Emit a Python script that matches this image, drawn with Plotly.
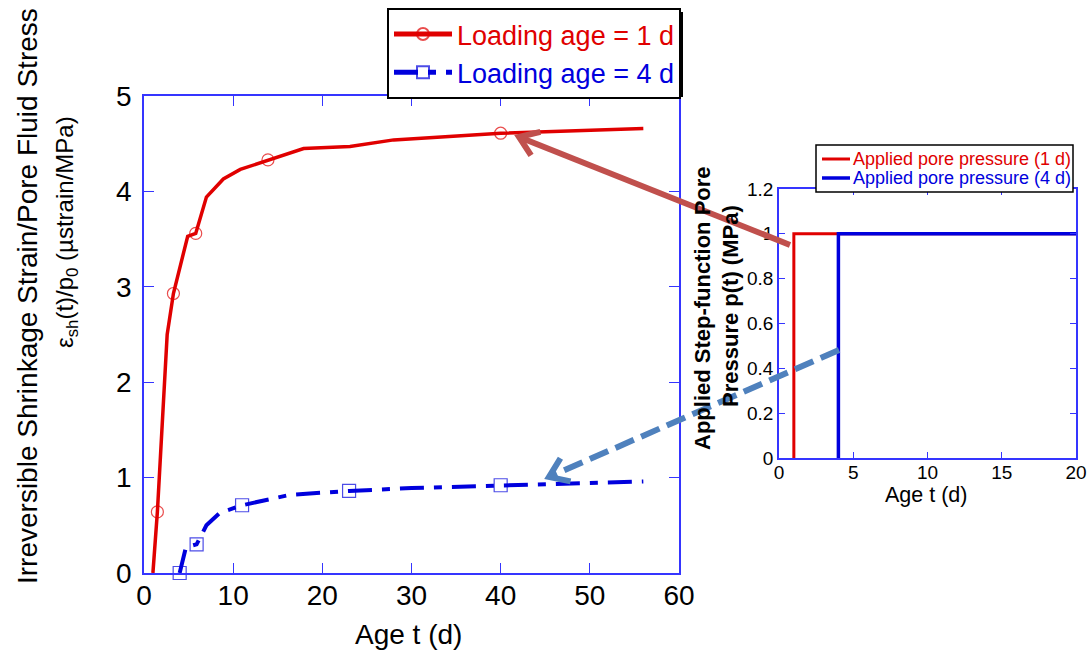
import math
import plotly.graph_objects as go

W, H = 1089, 654
FONT = "Arial, 'Liberation Sans', sans-serif"
AXIS_BLUE = "#3535ff"
RED = "#e00000"
BLUE = "#0000dd"

# ---- main panel: irreversible shrinkage strain per unit pore pressure ----
age_1d = [1.0, 1.5, 2.6, 3.3, 4.9, 5.8, 7.0, 8.9, 10.8, 13.9, 17.9, 23.1, 28.0, 40.0, 56.0]
strain_1d = [0.0, 0.64, 2.5, 2.93, 3.53, 3.56, 3.94, 4.13, 4.23, 4.33, 4.45, 4.47, 4.54, 4.61, 4.66]
measured_1d = [0, 1, 0, 1, 0, 1, 0, 0, 0, 1, 0, 0, 0, 1, 0]

age_4d = [4.0, 4.7, 5.9, 7.0, 8.5, 11.0, 16.4, 23.0, 30.0, 40.0, 56.0]
strain_4d = [0.0, 0.27, 0.30, 0.50, 0.63, 0.71, 0.82, 0.86, 0.89, 0.92, 0.96]
measured_4d = [1, 0, 1, 0, 0, 1, 0, 1, 0, 1, 0]

# ---- inset: applied step-function pore pressure ----
pp_age_1d = [1, 1, 20]
pp_1d = [0, 1, 1]
pp_age_4d = [4, 4, 20]
pp_4d = [0, 1, 1]

main_xticks = [0, 10, 20, 30, 40, 50, 60]
main_yticks = [0, 1, 2, 3, 4, 5]
inset_xticks = [0, 5, 10, 15, 20]
inset_yticks = [0, 0.2, 0.4, 0.6, 0.8, 1.0, 1.2]
inset_yticklabels = ["0", "0.2", "0.4", "0.6", "0.8", "1", "1.2"]
inset_series = ["Applied pore pressure (1 d)", "Applied pore pressure (4 d)"]


def px(x, y):
    """Convert pixel position to paper coordinates."""
    return x / W, 1 - y / H


fig = go.Figure()

fig.add_trace(go.Scatter(
    x=age_1d, y=strain_1d, mode="lines+markers",
    name=f"<span style='color:{RED}'>Loading age = 1 d</span>",
    line=dict(color=RED, width=3.5),
    marker=dict(symbol="circle-open", color=RED,
                size=[12 if m else 0 for m in measured_1d], line=dict(width=1.2)),
    cliponaxis=False,
))
fig.add_trace(go.Scatter(
    x=age_4d, y=strain_4d, mode="lines+markers",
    name=f"<span style='color:{BLUE}'>Loading age = 4 d</span>",
    line=dict(color=BLUE, width=4, dash="24px,10px,8px,10px"),
    marker=dict(symbol="square-open", color=BLUE,
                size=[13 if m else 0 for m in measured_4d], line=dict(width=1.2)),
    cliponaxis=False,
))

fig.add_trace(go.Scatter(
    x=pp_age_1d, y=pp_1d, mode="lines", xaxis="x2", yaxis="y2",
    name=inset_series[0], line=dict(color=RED, width=3), showlegend=False,
))
fig.add_trace(go.Scatter(
    x=pp_age_4d, y=pp_4d, mode="lines", xaxis="x2", yaxis="y2",
    name=inset_series[1], line=dict(color=BLUE, width=3.5), showlegend=False,
))

axis_common = dict(showline=True, linecolor=AXIS_BLUE, linewidth=1.5, mirror="ticks",
                   ticks="inside", tickcolor=AXIS_BLUE, showgrid=False, zeroline=False,
                   tickmode="array", automargin=False)

x0, _ = px(144, 0)
x1, _ = px(679, 0)
_, yb = px(0, 573)
_, yt = px(0, 96)
ix0, _ = px(779, 0)
ix1, _ = px(1076, 0)
_, iyb = px(0, 458)
_, iyt = px(0, 189)

fig.update_layout(
    template="none",
    width=W, height=H, autosize=False,
    margin=dict(l=0, r=0, t=0, b=0, pad=0, autoexpand=False),
    paper_bgcolor="white", plot_bgcolor="white",
    font=dict(family=FONT, color="black"),
    xaxis=dict(domain=[x0, x1], range=[0, 60], tickvals=main_xticks, ticklen=10,
               tickfont=dict(size=28), anchor="y", ticklabelstandoff=-3, **axis_common),
    yaxis=dict(domain=[yb, yt], range=[0, 5], tickvals=main_yticks, ticklen=10,
               tickfont=dict(size=28), anchor="x", ticklabelstandoff=5, **axis_common),
    xaxis2=dict(domain=[ix0, ix1], range=[0, 20], tickvals=inset_xticks, ticklen=6,
                tickfont=dict(size=19), anchor="y2", ticklabelstandoff=-4, **axis_common),
    yaxis2=dict(domain=[iyb, iyt], range=[0, 1.2], tickvals=inset_yticks,
                ticktext=inset_yticklabels, ticklen=6,
                tickfont=dict(size=19), anchor="x2", **axis_common),
    legend=dict(x=px(387, 0)[0], y=px(0, 8)[1], xanchor="left", yanchor="top",
                bgcolor="white", bordercolor="black", borderwidth=2,
                font=dict(size=27, family=FONT), itemsizing="constant", itemwidth=58),
    showlegend=True,
)

# main legend drop shadow
sx0, sy0 = px(391, 12)
sx1, sy1 = px(683, 97)
fig.add_shape(type="rect", xref="paper", yref="paper", x0=sx0, y0=sy1, x1=sx1, y1=sy0,
              fillcolor="black", line=dict(width=0), layer="above")

# inset legend: frame, line samples and coloured labels
lx0, ly0 = px(816, 145)
lx1, ly1 = px(1073, 192)
fig.add_shape(type="rect", xref="paper", yref="paper", x0=lx0, y0=ly1, x1=lx1, y1=ly0,
              fillcolor="white", line=dict(color="black", width=1.5), layer="above")
for name, color, lw, row_y in [(inset_series[0], RED, 3, 159), (inset_series[1], BLUE, 3.5, 178)]:
    a0, b0 = px(822, row_y)
    a1, _ = px(850, row_y)
    fig.add_shape(type="line", xref="paper", yref="paper", x0=a0, y0=b0, x1=a1, y1=b0,
                  line=dict(color=color, width=lw), layer="above")
    tx, ty = px(851, row_y)
    fig.add_annotation(text=name, x=tx, y=ty, xref="paper", yref="paper", showarrow=False,
                       xanchor="left", yanchor="middle",
                       font=dict(size=18, family=FONT, color=color))


def arrow(tail, tip, color, dash=None, width=6, head=22, half_angle=35):
    tx, ty = tail
    hx, hy = tip
    a0, b0 = px(tx, ty)
    a1, b1 = px(hx, hy)
    fig.add_shape(type="line", xref="paper", yref="paper", x0=a0, y0=b0, x1=a1, y1=b1,
                  line=dict(color=color, width=width, dash=dash), layer="above")
    ang = math.atan2(ty - hy, tx - hx)
    pts = []
    for s in (-1, 1):
        a = ang + s * math.radians(half_angle)
        pts.append((hx + head * math.cos(a), hy + head * math.sin(a)))
    p1 = px(*pts[0])
    p2 = px(*pts[1])
    path = f"M {p1[0]},{p1[1]} L {a1},{b1} L {p2[0]},{p2[1]}"
    fig.add_shape(type="path", xref="paper", yref="paper", path=path,
                  line=dict(color=color, width=width), layer="above")


arrow((790, 245), (519, 137), "#c0504d")
arrow((839, 350), (549, 477), "#4f81bd", dash="20px,8px")


def label(text, x, y, size, angle=0, bold=False):
    ax, ay = px(x, y)
    fig.add_annotation(text=text, x=ax, y=ay, xref="paper", yref="paper",
                       showarrow=False, textangle=angle, xanchor="center", yanchor="middle",
                       font=dict(size=size, family=FONT, color="black",
                                 weight="bold" if bold else "normal"))


label("Irreversible Shrinkage Strain/Pore Fluid Stress", 27, 296, 28, angle=-90)
label("ε<sub>sh</sub>(t)/p<sub>0</sub> (µstrain/MPa)", 67, 232, 24, angle=-90)
label("Age t (d)", 408, 634, 28)
label("Applied Step-function Pore", 702, 308, 22, angle=-90, bold=True)
label("Pressure p(t) (MPa)", 730, 306, 22, angle=-90, bold=True)
label("Age t (d)", 926, 495, 21.5)

fig.write_html("out.html")
